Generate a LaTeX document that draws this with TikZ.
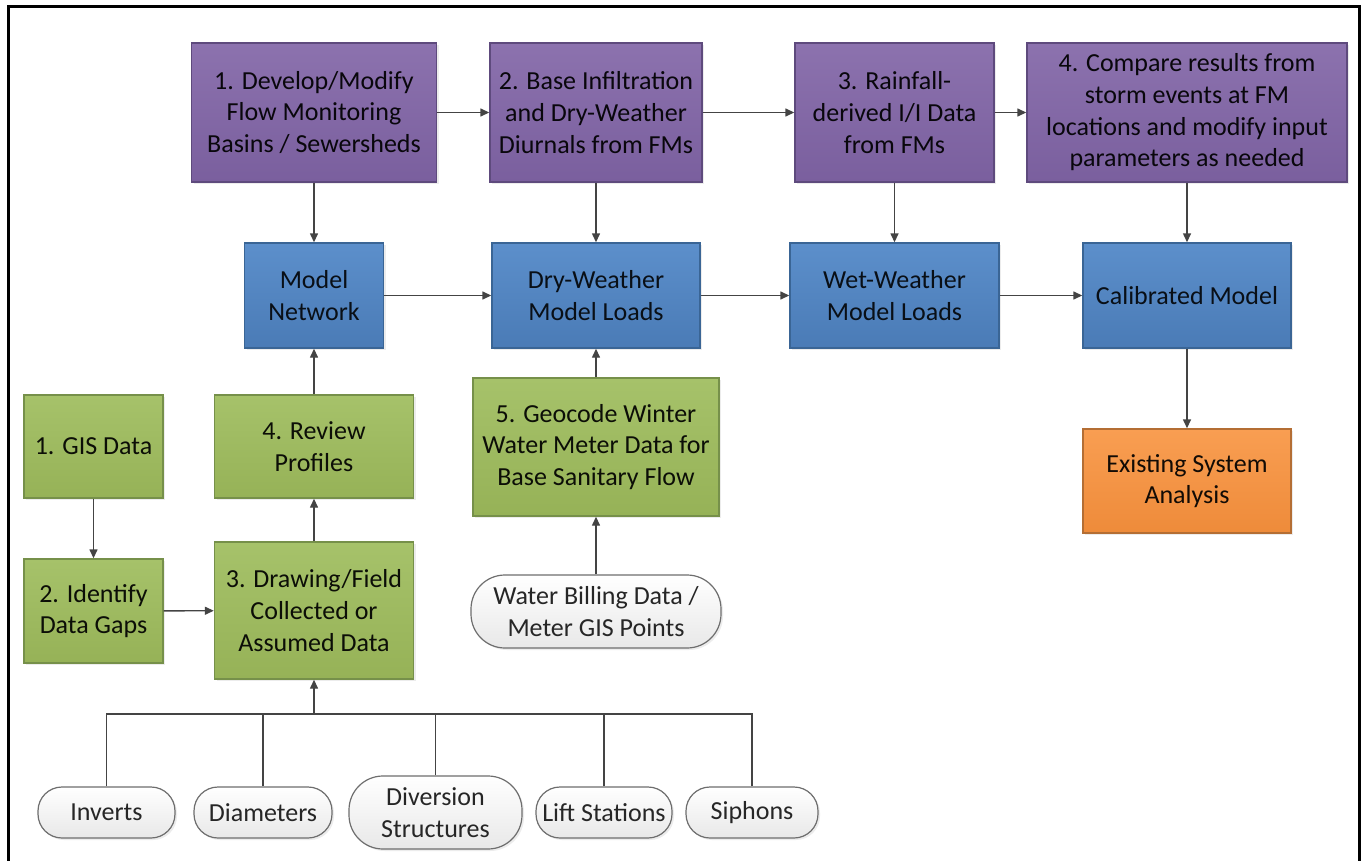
\documentclass[tikz,border=0pt]{standalone}
\usepackage{fontspec}
\setmainfont{Carlito}
\usetikzlibrary{arrows.meta,shadows}

\definecolor{purpleA}{HTML}{8C72AE}
\definecolor{purpleB}{HTML}{7A5F9E}
\definecolor{purpleL}{HTML}{5E4A7D}
\definecolor{blueA}{HTML}{5C8FCB}
\definecolor{blueB}{HTML}{4A7BB6}
\definecolor{blueL}{HTML}{3A6595}
\definecolor{greenA}{HTML}{A6C26A}
\definecolor{greenB}{HTML}{96B257}
\definecolor{greenL}{HTML}{76904A}
\definecolor{orangeA}{HTML}{F99E52}
\definecolor{orangeB}{HTML}{EE8B3A}
\definecolor{orangeL}{HTML}{B46E34}
\definecolor{pillL}{HTML}{6E6E6E}
\definecolor{wire}{HTML}{444444}

\begin{document}
\begin{tikzpicture}[x=1pt,y=-1pt,
  boxbase/.style={rectangle, inner sep=0pt, align=center, line width=1.4pt,
    font=\fontsize{26}{31.7}\selectfont,
    drop shadow={opacity=0.15, shadow xshift=2pt, shadow yshift=-2pt}},
  purplebox/.style={boxbase, draw=purpleL, top color=purpleA, bottom color=purpleB, text=black!90!purpleL},
  bluebox/.style={boxbase, draw=blueL, top color=blueA, bottom color=blueB, text=black!85!blueL},
  greenbox/.style={boxbase, draw=greenL, top color=greenA, bottom color=greenB, text=black!90!greenL},
  orangebox/.style={boxbase, draw=orangeL, top color=orangeA, bottom color=orangeB, text=black!90!orangeL},
  pill/.style={boxbase, draw=pillL, top color=white, bottom color=black!9, text=black!85, line width=1.2pt},
  flow/.style={draw=wire, line width=1.4pt, -{Triangle[length=9pt,width=8pt]}},
  plain/.style={draw=wire, line width=1.4pt},
  frameline/.style={line width=3pt, draw=black}
]
\useasboundingbox[fill=white] (0,0) rectangle (1364,861);

% outer frame (open at the bottom)
\draw[frameline] (8.5,861) -- (8.5,6.5) -- (1359.5,6.5) -- (1359.5,861);

% flow monitoring steps
\node[purplebox, minimum width=245pt, minimum height=139pt] (p1) at (314,112.5)
  {1. Develop/Modify\\Flow Monitoring\\Basins / Sewersheds};
\node[purplebox, minimum width=212pt, minimum height=139pt] (p2) at (596,112.5)
  {2. Base Infiltration\\and Dry-Weather\\Diurnals from FMs};
\node[purplebox, minimum width=199pt, minimum height=139pt] (p3) at (894.5,112.5)
  {3. Rainfall-\\derived I/I Data\\from FMs};
\node[purplebox, minimum width=320pt, minimum height=139pt] (p4) at (1187,112.5)
  {4. Compare results from\\storm events at FM\\locations and modify input\\parameters as needed};

% model stages
\node[bluebox, minimum width=139pt, minimum height=105pt] (b1) at (314,295.5) {Model\\Network};
\node[bluebox, minimum width=208pt, minimum height=105pt] (b2) at (596,295.5) {Dry-Weather\\Model Loads};
\node[bluebox, minimum width=209pt, minimum height=105pt] (b3) at (894.5,295.5) {Wet-Weather\\Model Loads};
\node[bluebox, minimum width=208pt, minimum height=105pt] (b4) at (1187,295.5) {Calibrated Model};

\node[orangebox, minimum width=208pt, minimum height=104pt] (ex) at (1187,481) {Existing System\\Analysis};

% network data steps
\node[greenbox, minimum width=139pt, minimum height=103pt] (g1) at (93.5,446.5) {1. GIS Data};
\node[greenbox, minimum width=139pt, minimum height=104pt] (g2) at (93.5,611) {2. Identify\\Data Gaps};
\node[greenbox, minimum width=199pt, minimum height=137pt] (g3) at (314,610.5) {3. Drawing/Field\\Collected or\\Assumed Data};
\node[greenbox, minimum width=199pt, minimum height=103pt] (g4) at (314,446.5) {4. Review\\Profiles};
\node[greenbox, minimum width=246pt, minimum height=138pt] (g5) at (596,447) {5. Geocode Winter\\Water Meter Data for\\Base Sanitary Flow};

% data sources
\node[pill, rounded corners=34pt, minimum width=250pt, minimum height=73pt] (wb) at (596,611.5) {Water Billing Data /\\Meter GIS Points};
\node[pill, rounded corners=24pt, minimum width=137pt, minimum height=51pt] (inv) at (106.5,812.5) {Inverts};
\node[pill, rounded corners=24pt, minimum width=138pt, minimum height=51pt] (dia) at (263,812.5) {Diameters};
\node[pill, rounded corners=34pt, minimum width=173pt, minimum height=73pt] (div) at (435.5,812.5) {Diversion\\Structures};
\node[pill, rounded corners=24pt, minimum width=136pt, minimum height=51pt] (lift) at (604,812.5) {Lift Stations};
\node[pill, rounded corners=24pt, minimum width=132pt, minimum height=51pt] (sip) at (752,812.5) {Siphons};

\coordinate (bus) at (314,714);

% connectors
\draw[flow] (p1) -- (p2);
\draw[flow] (p2) -- (p3);
\draw[flow] (p3) -- (p4);
\draw[flow] (p1) -- (b1);
\draw[flow] (p2) -- (b2);
\draw[flow] (p3) -- (b3);
\draw[flow] (p4) -- (b4);
\draw[flow] (b1) -- (b2);
\draw[flow] (b2) -- (b3);
\draw[flow] (b3) -- (b4);
\draw[flow] (b4) -- (ex);
\draw[flow] (g4) -- (b1);
\draw[flow] (g3) -- (g4);
\draw[flow] (g1) -- (g2);
\draw[flow] (g2) -- (g3);
\draw[flow] (g5) -- (b2);
\draw[flow] (wb) -- (g5);

\draw[plain] (inv.north) |- (bus);
\draw[plain] (dia.north) |- (bus);
\draw[plain] (div.north) |- (bus);
\draw[plain] (lift.north) |- (bus);
\draw[plain] (sip.north) |- (bus);
\draw[flow] (bus) -- (g3.south);
\end{tikzpicture}
\end{document}
